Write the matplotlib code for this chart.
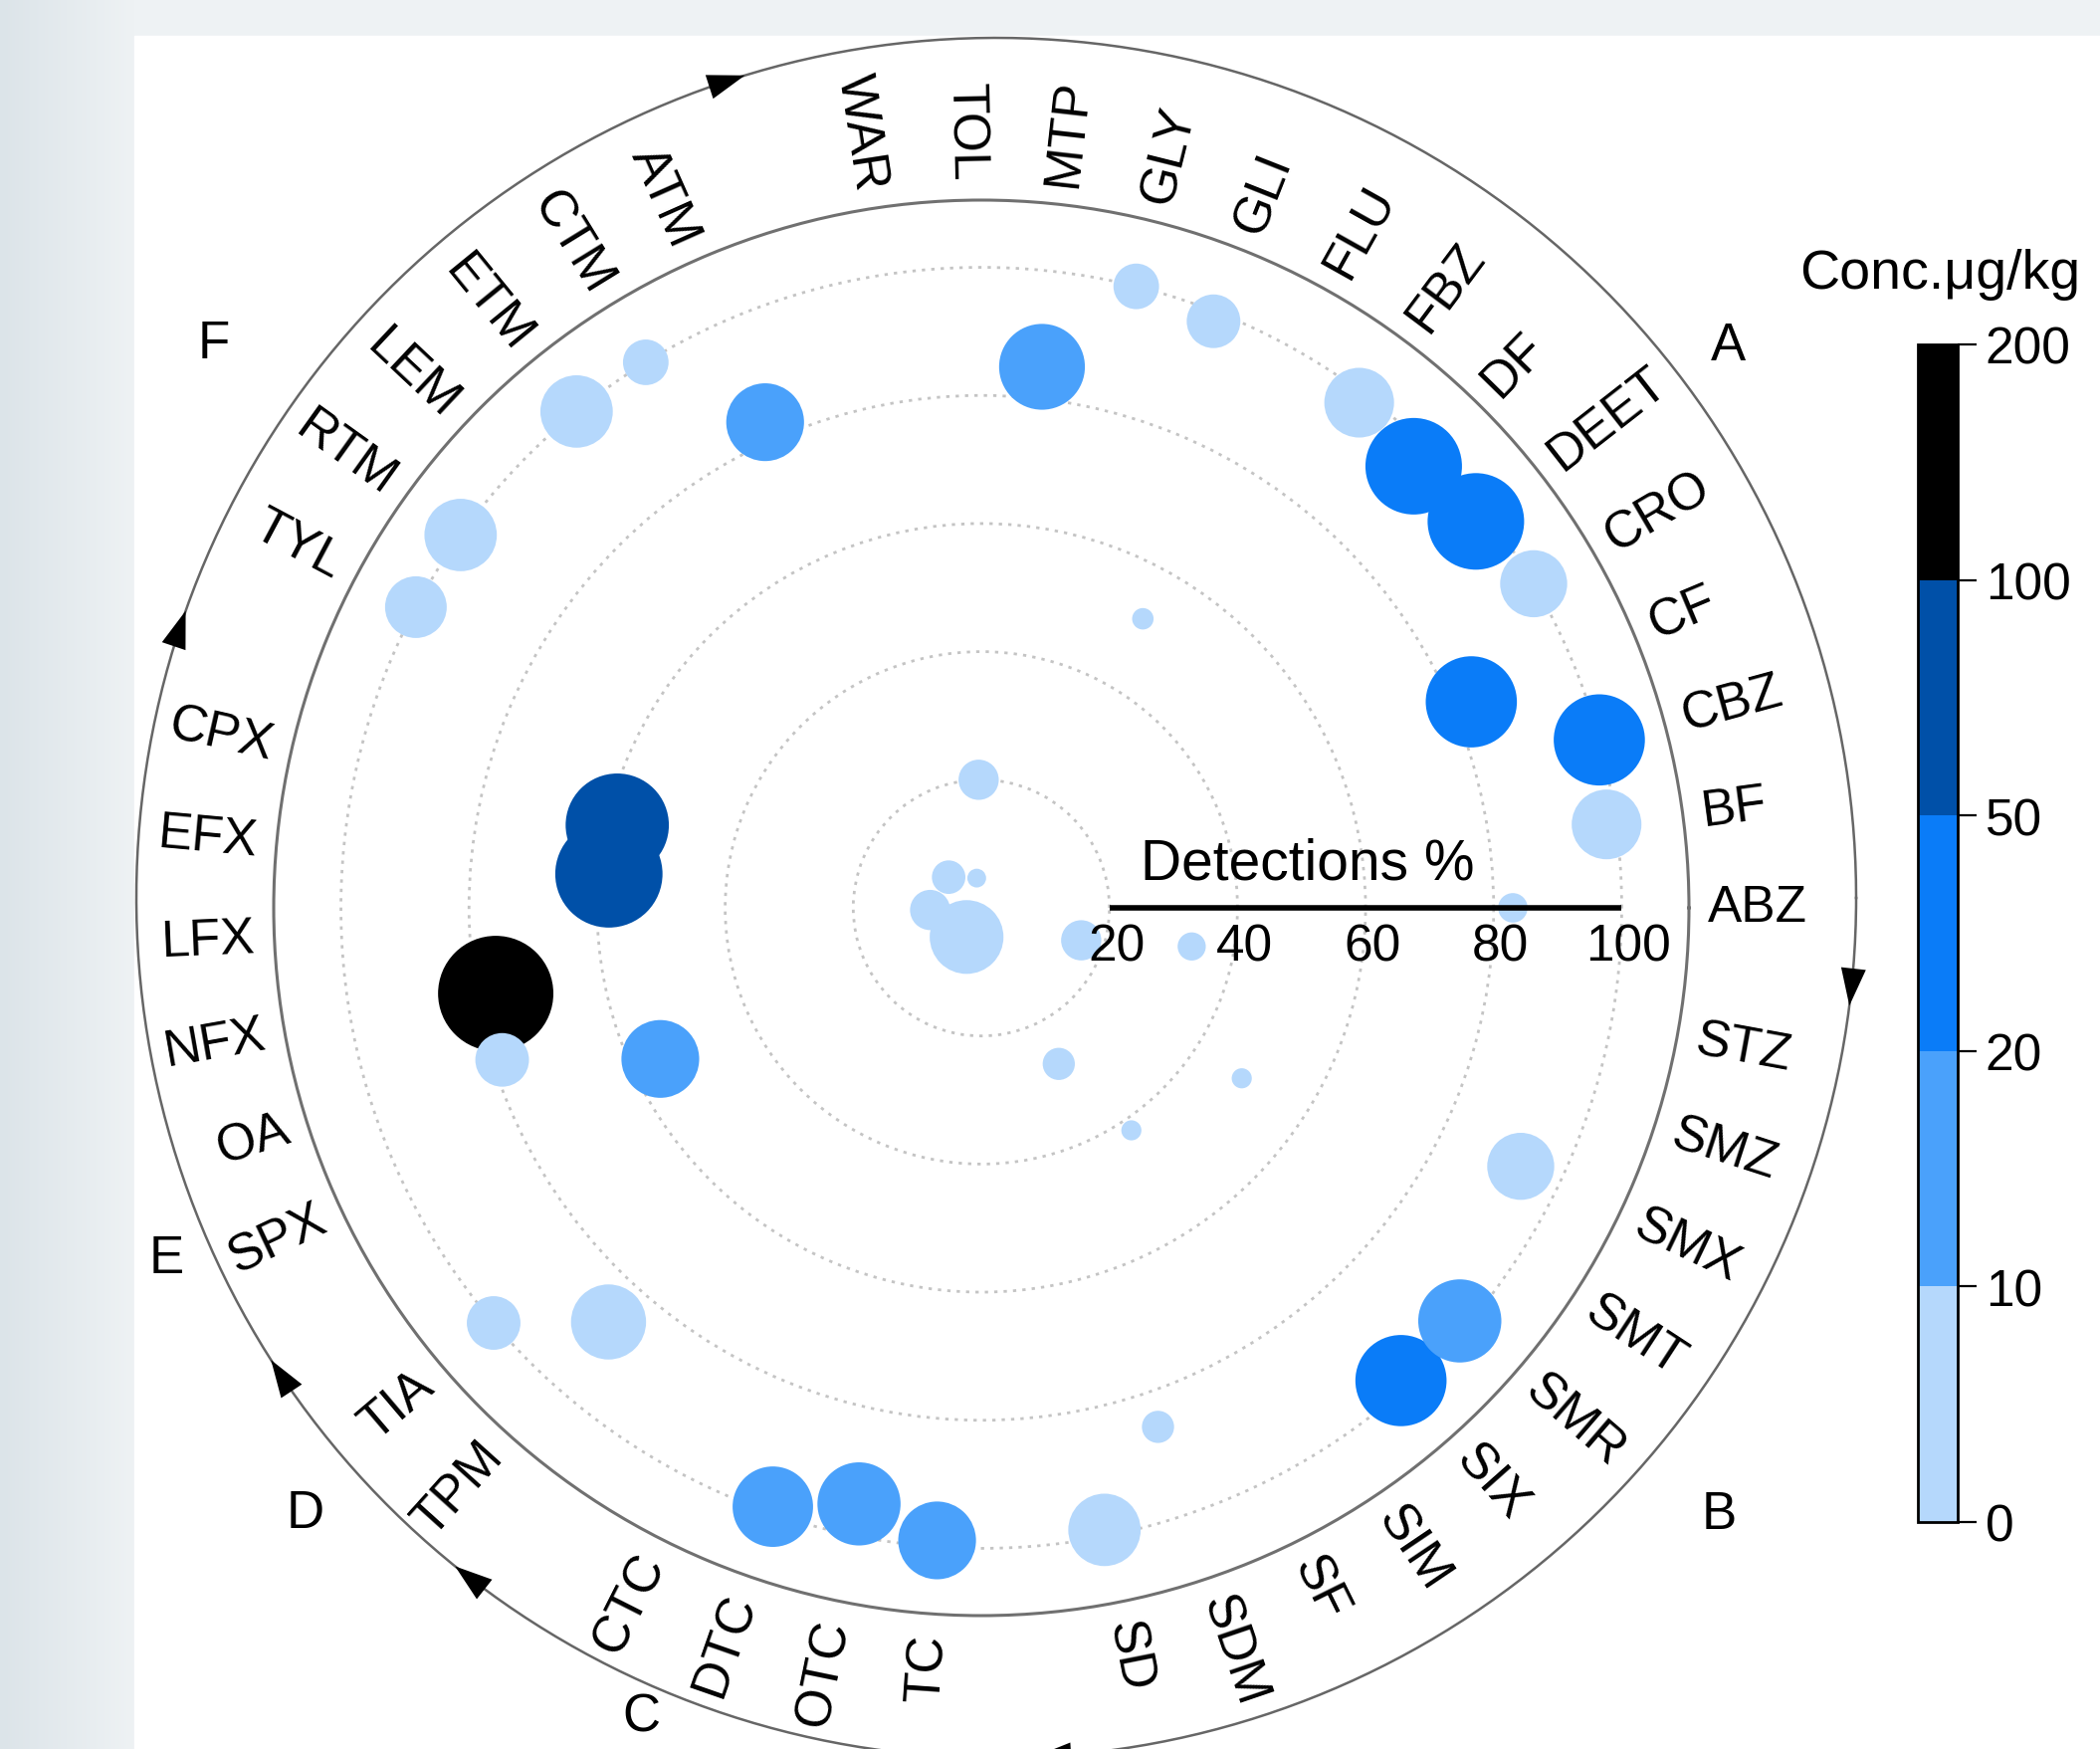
import numpy as np
import matplotlib.pyplot as plt
from matplotlib.colors import ListedColormap, BoundaryNorm, LinearSegmentedColormap
from matplotlib.cm import ScalarMappable
from matplotlib.patches import Rectangle

plt.rcParams['font.family'] = ['Liberation Sans', 'DejaVu Sans']

# labels round the circle, counter-clockwise from 3 o'clock ('' = gap between groups)
labels = ['ABZ', 'BF', 'CBZ', 'CF', 'CRO', 'DEET', 'DF', 'FBZ', 'FLU', 'GLI', 'GLY', 'MTP', 'TOL', 'WAR', '',
          'ATM', 'CTM', 'ETM', 'LEM', 'RTM', 'TYL', '',
          'CPX', 'EFX', 'LFX', 'NFX', 'OA', 'SPX', '',
          'TIA', 'TPM', '',
          'CTC', 'DTC', 'OTC', 'TC', '',
          'SD', 'SDM', 'SF', 'SIM', 'SIX', 'SMR', 'SMT', 'SMX', 'SMZ', 'STZ', '']

compounds = ['ABZ', 'BF', 'CBZ', 'CF', 'CRO', 'DEET', 'DF', 'FBZ', 'FLU', 'GLI', 'GLY', 'MTP', 'TOL', 'WAR',
             'ATM', 'CTM', 'ETM', 'LEM', 'RTM', 'TYL',
             'CPX', 'EFX', 'LFX', 'NFX', 'OA', 'SPX',
             'TIA', 'TPM',
             'CTC', 'DTC', 'OTC', 'TC',
             'SD', 'SDM', 'SF', 'SIM', 'SIX', 'SMR', 'SMT', 'SMX', 'SMZ', 'STZ']
# detection frequency (%)
detect = [83, 98.5, 100, 83, 100, 98, 96.5, 98.5, 51.7, 98.5, 100, 85, 20, 4.7,
          83, 100, 100, 7, 100, 100,
          58.3, 58.4, 8, 77, 78.5, 55.4,
          100, 87,
          5.1, 99, 95, 99,
          99, 85.6, 27.2, 41.9, 98.7, 98.7, 48.6, 93.4, 16.4, 33.4]
# concentration (µg/kg), read as the colour class of each bubble
conc = [5, 5, 35, 35, 5, 35, 35, 5, 5, 5, 5, 15, 5, 5,
        15, 5, 5, 5, 5, 5,
        75, 75, 5, 150, 5, 15,
        5, 5,
        5, 15, 15, 15,
        5, 5, 5, 5, 35, 15, 5, 5, 5, 5]
# bubble size (relative)
bubble = [22, 52, 68, 68, 50, 72, 72, 52, 16, 40, 34, 64, 30, 14,
          58, 34, 54, 25, 54, 46,
          77, 80, 30, 86, 40, 58,
          40, 56,
          55, 60, 62, 58,
          54, 24, 24, 15, 68, 62, 15, 50, 30, 21]

conc_bounds = [0, 10, 20, 50, 100, 200]
conc_colors = ['#b5d8fc', '#4aa1fb', '#0a7cf8', '#0050a8', '#000000']
det_ticks = [20, 40, 60, 80, 100]
groups = ['A', 'B', 'C', 'D', 'E', 'F']

STEP = 7.6  # degrees between neighbouring labels
W, H = 2110, 1758
cx, cy, R = 986, 913, 711      # centre and radius of the polar axes (px)
rcx, rcy, RR = 1001, 903, 864  # outer ring, drawn a little off-centre like the original
RMAX = 110.5

fig = plt.figure(figsize=(W / 100, H / 100), dpi=100)
fig.patch.set_facecolor('#eef2f4')

# screenshot background: grey frame, white panel
bg = fig.add_axes([0, 0, 1, 1], zorder=-10)
bg.axis('off')
bg.set_xlim(0, 1)
bg.set_ylim(0, 1)
grad = np.linspace(0, 1, 256).reshape(1, -1)
bg.imshow(grad, extent=[0, 135 / W, 0, 1], aspect='auto',
          cmap=LinearSegmentedColormap.from_list('bgg', ['#dce4e9', '#eef2f4']))
bg.add_patch(Rectangle((135 / W, 0), 1, 1 - 37 / H, color='white'))

theta_lab = np.deg2rad(np.arange(len(labels)) * STEP)

# outer ring with clockwise arrows between the groups
ring = fig.add_axes([(rcx - RR) / W, (H - rcy - RR) / H, 2 * RR / W, 2 * RR / H], projection='polar')
ring.set_theta_zero_location('E')
ring.set_ylim(0, 1)
ring.axis('off')
ring_t = np.linspace(0, 2 * np.pi, 600)
ring.plot(ring_t, np.ones_like(ring_t), color='#666666', lw=1.8, clip_on=False)
for adeg in [107, 160.5, 212.5, 231, 272.5, 352.8]:
    a = np.deg2rad(adeg)
    ring.annotate('', xy=(a, 1), xytext=(a + 0.03, 1),
                  arrowprops=dict(arrowstyle='-|>,head_length=0.9,head_width=0.3', color='black',
                                  lw=0, shrinkA=0, shrinkB=0, mutation_scale=30),
                  annotation_clip=False)

ax = fig.add_axes([(cx - R) / W, (H - cy - R) / H, 2 * R / W, 2 * R / H], projection='polar')
ax.patch.set_alpha(0)
ax.set_theta_zero_location('E')
ax.set_ylim(0, RMAX)

ax.set_xticks(theta_lab)
ax.set_xticklabels([])
ax.xaxis.grid(False)
ax.tick_params(axis='x', direction='in', length=12, width=1.6, colors='#707070')
ax.set_yticks(det_ticks)
ax.set_yticklabels([])
ax.yaxis.grid(True, linestyle=(0, (1.2, 2.2)), color='#c4c4c4', lw=2)
ax.tick_params(axis='y', length=0)
ax.spines['polar'].set_color('#707070')
ax.spines['polar'].set_linewidth(2.2)

# bubbles
norm = BoundaryNorm(conc_bounds, len(conc_colors))
cmap = ListedColormap(conc_colors)
idx = [labels.index(c) for c in compounds]
ax.scatter(theta_lab[idx], detect, s=(np.array(bubble) * 0.97) ** 2, c=conc, cmap=cmap, norm=norm,
           linewidths=0, zorder=3)

# compound names, kept upright
for i, name in enumerate(labels):
    if not name:
        continue
    deg = i * STEP
    if 90 < deg < 270:
        rot, ha = deg - 180, 'right'
    else:
        rot, ha = deg, 'left'
    ax.text(theta_lab[i], RMAX + 3, name, rotation=rot, rotation_mode='anchor',
            ha=ha, va='center', fontsize=37)

# detections axis drawn along 0 degrees
ax.plot([0, 0], [det_ticks[0], det_ticks[-1]], color='black', lw=4, solid_capstyle='butt', zorder=6)
for v in det_ticks:
    ax.annotate(str(v), xy=(0, v), xytext=(5, -28), textcoords='offset points',
                ha='center', va='center', fontsize=37, zorder=7)
ax.annotate('Detections %', xy=(0, 51), xytext=(0, 32), textcoords='offset points',
            ha='center', va='center', fontsize=41, zorder=7)

# group letters
for g, gdeg, gr in zip(groups, [37, 320.6, 247.2, 221.8, 203.3, 143.7],
                       [146, 149, 137, 141.7, 138.5, 148.8]):
    ax.text(np.deg2rad(gdeg), gr, g, ha='center', va='center', fontsize=38)

# colour bar
cax = fig.add_axes([1927 / W, (H - 1530) / H, 40 / W, (1530 - 347) / H])
cb = fig.colorbar(ScalarMappable(norm=norm, cmap=cmap), cax=cax, ticks=conc_bounds, spacing='uniform')
cb.ax.tick_params(labelsize=37, length=14, width=1.6, direction='out', pad=6)
cb.outline.set_linewidth(2)
fig.text(1808 / W, 1 - 276 / H, 'Conc.μg/kg', fontsize=40, ha='left', va='center')

fig.savefig('out.png', dpi=100, facecolor=fig.get_facecolor())
